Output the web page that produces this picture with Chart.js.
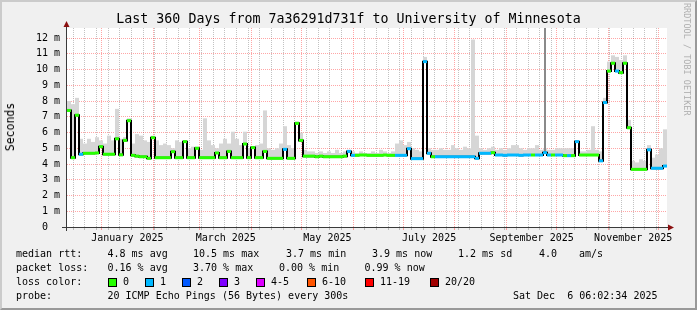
<!DOCTYPE html>
<html>
<head>
<meta charset="utf-8">
<title>SmokePing - 7a36291d731f to University of Minnesota</title>
<script src="https://cdn.jsdelivr.net/npm/chart.js@4.4.1/dist/chart.umd.min.js"></script>
<style>
  html, body { margin: 0; padding: 0; }
  body { position: relative; width: 697px; height: 310px; overflow: hidden; background: #f0f0f0;
         font-family: "DejaVu Sans Mono", monospace; color: #000; }
  #frame { position: absolute; left: 0; top: 0; width: 697px; height: 310px; box-sizing: border-box;
           border-top: 2px solid #cbcbcb; border-left: 2px solid #cbcbcb;
           border-right: 2px solid #999; border-bottom: 2px solid #999; pointer-events: none; }
  #chart { position: absolute; left: 0; top: 0; }
  #title { position: absolute; left: 0; top: 10px; width: 697px; text-align: center; font-size: 13.3px; line-height: 18px; white-space: pre; }
  #ylabel { position: absolute; left: 10px; top: 127px; font-size: 11.5px; line-height: 14px; white-space: nowrap;
            transform: translate(-50%, -50%) rotate(-90deg); }
  #credit { position: absolute; left: 687px; top: 3px; font-size: 8.5px; line-height: 10px; color: #b0b0b0; white-space: nowrap;
            transform-origin: 0 0; transform: rotate(90deg) translateY(-50%); }
  .lg { position: absolute; font-size: 10px; line-height: 12px; white-space: pre; }
  .box { position: absolute; width: 7px; height: 7px; border: 1px solid #000; }
</style>
</head>
<body>
<canvas id="chart" width="697" height="310"></canvas>
<div id="title">Last 360 Days from 7a36291d731f to University of Minnesota</div>
<div id="ylabel">Seconds</div>
<div id="credit">RRDTOOL / TOBI OETIKER</div>
<div id="legend"></div>
<div id="frame"></div>
<script>
// median rtt per bin (ms), 150 bins of 2.4 days each
const medianRtt = [
  7.4, 4.4, 7.1, 4.62, 4.68, 4.68, 4.68, 4.7, 5.1, 4.62, 4.62, 4.62, 5.6, 4.58, 5.5, 6.75, 4.55, 4.5, 4.46, 4.46,
  4.36, 5.67, 4.4, 4.4, 4.4, 4.4, 4.78, 4.4, 4.4, 5.42, 4.4, 4.4, 5.0, 4.4, 4.4, 4.4, 4.4, 4.7, 4.4, 4.4,
  4.8, 4.4, 4.4, 4.4, 5.27, 4.4, 5.04, 4.4, 4.4, 4.8, 4.36, 4.36, 4.36, 4.36, 4.93, 4.36, 4.36, 6.58, 5.5, 4.5,
  4.5, 4.5, 4.46, 4.5, 4.46, 4.46, 4.46, 4.46, 4.46, 4.5, 4.8, 4.55, 4.55, 4.57, 4.57, 4.55, 4.55, 4.55, 4.55, 4.57,
  4.55, 4.55, 4.55, 4.55, 4.55, 4.97, 4.34, 4.34, 4.34, 10.5, 4.68, 4.46, 4.46, 4.46, 4.46, 4.46, 4.46, 4.46, 4.46, 4.46,
  4.46, 4.46, 4.36, 4.68, 4.68, 4.68, 4.72, 4.57, 4.57, 4.55, 4.57, 4.57, 4.57, 4.55, 4.57, 4.57, 4.57, 4.57, 4.57, 4.72,
  4.57, 4.57, 4.57, 4.57, 4.53, 4.53, 4.53, 5.42, 4.57, 4.57, 4.57, 4.57, 4.57, 4.2, 7.9, 9.9, 10.4, 9.9, 9.8, 10.4,
  6.3, 3.66, 3.66, 3.66, 3.66, 4.9, 3.73, 3.73, 3.73, 3.87
];
// top of the smoke (highest ping) per bin (ms)
const smokeTop = [
  8.0, 7.8, 8.2, 5.6, 5.3, 5.6, 5.4, 5.7, 5.5, 5.3, 5.8, 5.5, 7.5, 5.6, 5.7, 6.9, 5.3, 5.9, 5.8, 5.5,
  5.4, 5.8, 5.5, 5.2, 5.3, 5.2, 5.0, 5.5, 5.4, 5.5, 5.0, 5.1, 5.1, 4.9, 6.9, 5.5, 5.2, 5.0, 5.3, 5.6,
  5.3, 6.05, 5.6, 5.2, 6.05, 5.0, 5.1, 5.2, 5.3, 7.4, 5.0, 4.9, 5.0, 5.3, 6.4, 5.2, 5.0, 6.7, 6.0, 4.9,
  4.8, 4.8, 4.7, 4.8, 4.7, 4.8, 4.7, 4.9, 4.7, 4.8, 4.9, 4.8, 4.7, 4.8, 4.7, 4.7, 4.8, 4.7, 4.9, 4.8,
  4.7, 4.8, 5.3, 5.5, 5.2, 5.4, 5.0, 4.9, 4.8, 10.8, 5.0, 4.9, 4.9, 5.0, 4.9, 4.9, 5.2, 5.0, 4.9, 5.1,
  5.0, 11.9, 5.8, 5.0, 4.9, 5.0, 5.1, 4.9, 5.0, 4.9, 5.0, 5.2, 5.2, 5.0, 4.9, 5.0, 5.0, 5.2, 4.9, 5.0,
  4.9, 4.9, 5.0, 5.0, 5.0, 5.0, 5.0, 5.5, 4.8, 4.8, 4.9, 6.4, 4.9, 4.8, 8.2, 10.5, 10.9, 10.8, 10.6, 10.9,
  6.8, 4.2, 4.1, 4.3, 4.2, 5.2, 4.4, 4.6, 5.0, 6.2
];
// loss bucket per bin: 0 = no loss, 1 = 1 of 20 lost
const lossBucket = [
  0, 0, 0, 1, 0, 0, 0, 0, 0, 0, 0, 0, 0, 0, 0, 0, 0, 0, 0, 0,
  0, 0, 0, 0, 0, 0, 0, 0, 0, 0, 0, 0, 0, 0, 0, 0, 0, 0, 0, 0,
  0, 0, 0, 0, 0, 0, 0, 0, 0, 0, 0, 0, 0, 0, 1, 0, 0, 0, 0, 0,
  0, 0, 0, 0, 0, 0, 0, 0, 0, 0, 1, 1, 0, 0, 0, 0, 0, 0, 0, 0,
  0, 0, 1, 1, 1, 1, 1, 1, 1, 1, 1, 0, 1, 1, 1, 1, 1, 1, 1, 1,
  1, 1, 1, 1, 1, 1, 0, 1, 1, 1, 1, 1, 1, 1, 1, 1, 0, 1, 1, 1,
  1, 0, 1, 1, 0, 1, 0, 1, 0, 0, 0, 0, 0, 1, 1, 0, 0, 1, 0, 0,
  0, 0, 0, 0, 0, 1, 1, 1, 1, 1
];
// one very high outlier (dark smoke)
const darkSmokeBins = [119];
const darkSmokeTop = [12.7];

const lossColors = ['#26ff00', '#00b8ff'];
const monthLabels = ['January 2025', 'March 2025', 'May 2025', 'July 2025', 'September 2025', 'November 2025'];
const labelMonths = [0, 2, 4, 6, 8, 10];
const yTickLabels = ['0  ', '1 m', '2 m', '3 m', '4 m', '5 m', '6 m', '7 m', '8 m', '9 m', '10 m', '11 m', '12 m'];

const lossLegend = [
  ['0', '#26ff00', 108], ['1', '#00b8ff', 145], ['2', '#0059ff', 182], ['3', '#7e00ff', 219],
  ['4-5', '#dd00ff', 256], ['6-10', '#ff5500', 307], ['11-19', '#ff0000', 365], ['20/20', '#a10000', 430]
];
const legendRows = [
  [248, [[16, 'median rtt:'], [107.5, '4.8 ms avg'], [193, '10.5 ms max'], [286, '3.7 ms min'], [372, '3.9 ms now'], [458, '1.2 ms sd'], [539, '4.0'], [579, 'am/s']]],
  [262, [[16, 'packet loss:'], [107.5, '0.16 % avg'], [193, '3.70 % max'], [279, '0.00 % min'], [364.5, '0.99 % now']]],
  [276, [[16, 'loss color:']]],
  [290, [[16, 'probe:'], [107.5, '20 ICMP Echo Pings (56 Bytes) every 300s'], [513, 'Sat Dec  6 06:02:34 2025']]]
];

// legend text
const legendEl = document.getElementById('legend');
function addText(x, y, txt) {
  const d = document.createElement('div');
  d.className = 'lg';
  d.style.left = x + 'px';
  d.style.top = y + 'px';
  d.textContent = txt;
  legendEl.appendChild(d);
}
legendRows.forEach(([y, items]) => items.forEach(([x, t]) => addText(x, y, t)));
lossLegend.forEach(([txt, col, x]) => {
  const b = document.createElement('div');
  b.className = 'box';
  b.style.left = x + 'px';
  b.style.top = '278px';
  b.style.background = col;
  legendEl.appendChild(b);
  addText(x + 15, 276, txt);
});

// time axis: days since start of the 360 day window
const DAY = 86400000;
const startTime = Date.UTC(2024, 11, 11, 6, 2, 34);
const spanDays = 360;
const binDays = spanDays / medianRtt.length;
const binDay = i => (i + 0.5) * binDays;
const dayOf = t => (t - startTime) / DAY;

const xTicks = [];
const monthStarts = [];
for (let m = 0; m < 12; m++) monthStarts.push(dayOf(Date.UTC(2025, m, 1)));
for (let t = Date.UTC(2024, 11, 15); dayOf(t) < spanDays; t += 7 * DAY) {
  const d = dayOf(t);
  if (!monthStarts.some(ms => Math.abs(ms - d) < 0.6)) xTicks.push({ value: d, kind: 'week' });
}
monthStarts.forEach(d => xTicks.push({ value: d, kind: 'month' }));
labelMonths.forEach((m, k) => {
  const mid = (dayOf(Date.UTC(2025, m, 1)) + dayOf(Date.UTC(2025, m + 1, 1))) / 2;
  xTicks.push({ value: mid, kind: 'label', label: monthLabels[k] });
});
xTicks.sort((a, b) => a.value - b.value);

const yTicks = [];
for (let v = 0; v <= 12.5; v += 0.5) yTicks.push(v);

const MAJOR = 'rgba(255,0,0,0.35)';
const MINOR = 'rgba(120,120,120,0.45)';
const NONE = 'rgba(0,0,0,0)';
const xGridColor = c => {
  const t = xTicks[c.index];
  if (!t) return NONE;
  return t.kind === 'month' ? MAJOR : t.kind === 'week' ? MINOR : NONE;
};

const framePlugin = {
  id: 'framePlugin',
  beforeDraw(chart) {
    const { ctx, chartArea: a } = chart;
    ctx.save();
    ctx.fillStyle = '#ffffff';
    ctx.fillRect(a.left, a.top, a.right - a.left, a.bottom - a.top);
    ctx.restore();
  },
  afterDraw(chart) {
    const { ctx, chartArea: a } = chart;
    ctx.save();
    ctx.strokeStyle = '#3a3a3a';
    ctx.lineWidth = 1;
    ctx.beginPath();
    ctx.moveTo(a.left - 0.5, a.top - 4);
    ctx.lineTo(a.left - 0.5, a.bottom + 4);
    ctx.moveTo(a.left - 5, a.bottom + 0.5);
    ctx.lineTo(a.right + 3, a.bottom + 0.5);
    ctx.stroke();
    ctx.fillStyle = '#8b1010';
    ctx.beginPath();
    ctx.moveTo(a.left - 0.5, a.top - 7);
    ctx.lineTo(a.left - 3.5, a.top - 1);
    ctx.lineTo(a.left + 2.5, a.top - 1);
    ctx.closePath();
    ctx.fill();
    ctx.beginPath();
    ctx.moveTo(a.right + 7, a.bottom + 0.5);
    ctx.lineTo(a.right + 1, a.bottom - 2.5);
    ctx.lineTo(a.right + 1, a.bottom + 3.5);
    ctx.closePath();
    ctx.fill();
    ctx.restore();
  }
};

const smokeData = smokeTop.map((v, i) => ({ x: binDay(i), y: [medianRtt[i], v] }));
const darkData = darkSmokeBins.map((b, k) => ({ x: binDay(b), y: [medianRtt[b], darkSmokeTop[k]] }));
const medianData = medianRtt.map((v, i) => ({ x: binDay(i), y: v }));
const tickFont = { family: 'DejaVu Sans Mono', size: 10 };

new Chart(document.getElementById('chart').getContext('2d'), {
  type: 'bar',
  data: {
    datasets: [
      { type: 'bar', data: smokeData, backgroundColor: '#d6d6d6', grouped: false,
        barThickness: 4, inflateAmount: 0, order: 3 },
      { type: 'bar', data: darkData, backgroundColor: '#8a8a8a', grouped: false,
        barThickness: 2, inflateAmount: 0, order: 2 },
      { type: 'line', data: medianData, stepped: 'middle', borderColor: '#000', borderWidth: 2,
        pointStyle: 'line', pointRadius: 2, pointBorderWidth: 3,
        pointBorderColor: lossBucket.map(l => lossColors[l]), order: 1 }
    ]
  },
  options: {
    responsive: false,
    animation: false,
    events: [],
    layout: { padding: { top: 28, right: 30, bottom: 0, left: 0 } },
    plugins: { legend: { display: false }, tooltip: { enabled: false } },
    scales: {
      x: {
        type: 'linear', min: 0, max: spanDays, offset: false,
        afterBuildTicks: s => { s.ticks = xTicks.map(t => ({ value: t.value })); },
        afterFit: s => { s.height = 83; },
        grid: { offset: false, color: xGridColor, tickColor: xGridColor, lineWidth: 1, drawTicks: true, tickLength: 3 },
        border: { display: false, dash: [1, 1] },
        ticks: { autoSkip: false, maxRotation: 0, minRotation: 0, padding: 2, color: '#000', font: tickFont,
                 callback: (v, i) => (xTicks[i] && xTicks[i].label) || '' }
      },
      y: {
        type: 'linear', min: 0, max: 12.635,
        afterBuildTicks: s => { s.ticks = yTicks.map(v => ({ value: v })); },
        afterFit: s => { s.width = 67; },
        grid: { color: c => (c.tick && Number.isInteger(c.tick.value)) ? MAJOR : MINOR, lineWidth: 1, drawTicks: false },
        border: { display: false, dash: [1, 1] },
        ticks: { padding: 7, color: '#000', font: tickFont,
                 callback: v => Number.isInteger(v) ? yTickLabels[v] : '' }
      }
    }
  },
  plugins: [framePlugin]
});
</script>
</body>
</html>
